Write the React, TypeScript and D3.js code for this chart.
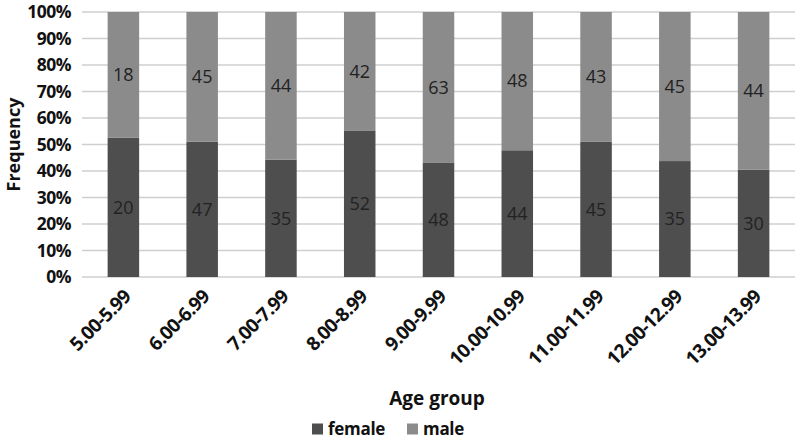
import { useEffect, useRef } from "react";
import * as d3 from "d3";

const ageGroups = ["5.00-5.99", "6.00-6.99", "7.00-7.99", "8.00-8.99", "9.00-9.99", "10.00-10.99", "11.00-11.99", "12.00-12.99", "13.00-13.99"];
const female = [20, 47, 35, 52, 48, 44, 45, 35, 30];
const male = [18, 45, 44, 42, 63, 48, 43, 45, 44];
const yTicks = [0, 0.1, 0.2, 0.3, 0.4, 0.5, 0.6, 0.7, 0.8, 0.9, 1];

const FEMALE_COLOR = "#4e4e4e";
const MALE_COLOR = "#8b8b8b";
const FONT = "'Open Sans', 'DejaVu Sans', sans-serif";

export default function App() {
  const svgRef = useRef<SVGSVGElement>(null);

  useEffect(() => {
    const svg = d3.select(svgRef.current);
    svg.selectAll("*").remove();

    const left = 84, right = 793, top = 12, bottom = 277;

    const x = d3.scaleBand().domain(ageGroups).range([left, right]).paddingInner(0.6).paddingOuter(0.3);
    const y = d3.scaleLinear().domain([0, 1]).range([bottom, top]);

    // grid
    svg.append("g")
      .selectAll("line")
      .data(yTicks)
      .join("line")
      .attr("x1", left - 2)
      .attr("x2", right + 2)
      .attr("y1", (d) => y(d))
      .attr("y2", (d) => y(d))
      .attr("stroke", "#cfcfcf")
      .attr("stroke-width", 1.5);

    // y labels
    svg.append("g")
      .selectAll("text")
      .data(yTicks)
      .join("text")
      .attr("x", 71)
      .attr("y", (d) => y(d))
      .attr("dy", "0.35em")
      .attr("text-anchor", "end")
      .attr("font-family", FONT)
      .attr("font-weight", "bold")
      .attr("font-size", 17.5)
      .attr("letter-spacing", -0.5)
      .attr("fill", "#111")
      .text((d) => d3.format(".0%")(d));

    const rows = ageGroups.map((g, i) => {
      const tot = female[i] + male[i];
      return { g, f: female[i], m: male[i], fp: female[i] / tot };
    });

    const bars = svg.append("g");
    bars.selectAll("rect.f")
      .data(rows)
      .join("rect")
      .attr("class", "f")
      .attr("x", (d) => x(d.g)!)
      .attr("width", x.bandwidth())
      .attr("y", (d) => y(d.fp))
      .attr("height", (d) => y(0) - y(d.fp))
      .attr("fill", FEMALE_COLOR);
    bars.selectAll("rect.m")
      .data(rows)
      .join("rect")
      .attr("class", "m")
      .attr("x", (d) => x(d.g)!)
      .attr("width", x.bandwidth())
      .attr("y", y(1))
      .attr("height", (d) => y(d.fp) - y(1))
      .attr("fill", MALE_COLOR);

    const labels = svg.append("g")
      .attr("font-family", FONT)
      .attr("font-size", 18)
      .attr("fill", "#222")
      .attr("text-anchor", "middle");
    labels.selectAll("text.f")
      .data(rows)
      .join("text")
      .attr("class", "f")
      .attr("x", (d) => x(d.g)! + x.bandwidth() / 2)
      .attr("y", (d) => y(d.fp / 2))
      .attr("dy", "0.35em")
      .text((d) => d.f);
    labels.selectAll("text.m")
      .data(rows)
      .join("text")
      .attr("class", "m")
      .attr("x", (d) => x(d.g)! + x.bandwidth() / 2)
      .attr("y", (d) => y((d.fp + 1) / 2))
      .attr("dy", "0.35em")
      .text((d) => d.m);

    // x labels rotated
    svg.append("g")
      .selectAll("text")
      .data(ageGroups)
      .join("text")
      .attr("transform", (d) => `translate(${x(d)! + x.bandwidth() / 2 + 4},${bottom + 16}) rotate(-45)`)
      .attr("text-anchor", "end")
      .attr("dy", "0.35em")
      .attr("font-family", FONT)
      .attr("font-weight", "bold")
      .attr("font-size", 19)
      .attr("letter-spacing", -0.6)
      .attr("fill", "#111")
      .text((d) => d);

    // axis titles
    svg.append("text")
      .attr("transform", `translate(14,${(top + bottom) / 2}) rotate(-90)`)
      .attr("text-anchor", "middle")
      .attr("dy", "0.35em")
      .attr("font-family", FONT)
      .attr("font-weight", "bold")
      .attr("font-size", 18)
      .attr("fill", "#111")
      .text("Frequency");

    svg.append("text")
      .attr("x", 437)
      .attr("y", 398)
      .attr("text-anchor", "middle")
      .attr("dy", "0.35em")
      .attr("font-family", FONT)
      .attr("font-weight", "bold")
      .attr("font-size", 19)
      .attr("fill", "#111")
      .text("Age group");

    // legend
    const legend = [
      { name: "female", color: FEMALE_COLOR, x: 312 },
      { name: "male", color: MALE_COLOR, x: 407 },
    ];
    const lg = svg.append("g").selectAll("g").data(legend).join("g")
      .attr("transform", (d) => `translate(${d.x},429)`);
    lg.append("rect")
      .attr("x", 0)
      .attr("y", -5.5)
      .attr("width", 11)
      .attr("height", 11)
      .attr("fill", (d) => d.color);
    lg.append("text")
      .attr("x", 16)
      .attr("dy", "0.35em")
      .attr("font-family", FONT)
      .attr("font-weight", "bold")
      .attr("font-size", 17)
      .attr("letter-spacing", -0.3)
      .attr("fill", "#111")
      .text((d) => d.name);
  }, []);

  return (
    <svg ref={svgRef} width={797} height={441} style={{ position: "absolute", left: 0, top: 0, background: "#fff" }} />
  );
}
